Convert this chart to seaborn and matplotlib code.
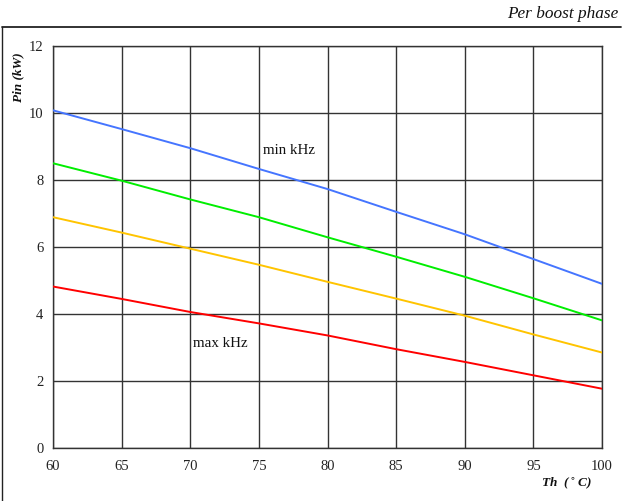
import matplotlib
matplotlib.use("Agg")
import matplotlib.pyplot as plt
from matplotlib.lines import Line2D
import seaborn as sns
import pandas as pd

# Heatsink temperature (deg C)
th = [60, 65, 70, 75, 80, 85, 90, 95, 100]

# Input power per boost phase (kW) for each switching-frequency setting
pin_min_khz = [10.08, 9.52, 8.95, 8.33, 7.73, 7.05, 6.38, 5.64, 4.90]
pin_f2 = [8.50, 7.98, 7.42, 6.89, 6.29, 5.71, 5.11, 4.47, 3.81]
pin_f3 = [6.89, 6.43, 5.95, 5.47, 4.96, 4.46, 3.95, 3.39, 2.85]
pin_max_khz = [4.82, 4.45, 4.06, 3.72, 3.36, 2.95, 2.57, 2.17, 1.77]

series_names = ["min kHz", "f2", "f3", "max kHz"]
series_colors = ["#4575ff", "#00ee00", "#ffc400", "#ff0000"]

x_ticks = [60, 65, 70, 75, 80, 85, 90, 95, 100]
y_ticks = [0, 2, 4, 6, 8, 10, 12]

frames = []
for name, vals in zip(series_names, [pin_min_khz, pin_f2, pin_f3, pin_max_khz]):
    frames.append(pd.DataFrame({"Th": th, "Pin": vals, "setting": name}))
df = pd.concat(frames, ignore_index=True)

sns.set_theme(style="white")
plt.rcParams["font.family"] = ["Liberation Serif", "DejaVu Serif"]

fig = plt.figure(figsize=(6.23, 5.01), dpi=100)
ax = fig.add_axes([53 / 623, 53 / 501, 549 / 623, 402 / 501])

sns.lineplot(data=df, x="Th", y="Pin", hue="setting", hue_order=series_names,
             palette=series_colors, linewidth=1.4, legend=False, ax=ax, zorder=3)

ax.set_xlim(60, 100)
ax.set_ylim(0, 12)
ax.set_xticks(x_ticks)
ax.set_yticks(y_ticks)
ax.set_xticklabels([str(v) for v in x_ticks], fontsize=10.5)
ax.set_yticklabels([str(v) for v in y_ticks], fontsize=10.5)
ax.tick_params(axis="both", length=0, colors="#222222")
ax.tick_params(axis="x", pad=9)
ax.tick_params(axis="y", pad=7)
ax.grid(True, color="#333333", linewidth=1.0)
for sp in ax.spines.values():
    sp.set_color("#333333")
    sp.set_linewidth(1.0)
ax.set_xlabel("")
ax.set_ylabel("")

# curve labels
ax.text(77.2, 8.87, "min kHz", fontsize=10.8, ha="center", va="center", color="#111111")
ax.text(72.2, 3.13, "max kHz", fontsize=10.8, ha="center", va="center", color="#111111")

# axis titles
fig.text(18 / 623, 1 - 77 / 501, "Pin (kW)", rotation=90, ha="center", va="center",
         fontsize=9.5, fontweight="bold", fontstyle="italic", color="#111111")
fig.text(592 / 623, 1 - 483 / 501, r"Th  ($^\circ$C)", ha="right", va="center",
         fontsize=9.5, fontweight="bold", fontstyle="italic", color="#111111")

# page title and frame
fig.text(618 / 623, 1 - 14 / 501, "Per boost phase", ha="right", va="center",
         fontsize=12.4, fontstyle="italic", color="#111111")
fig.add_artist(Line2D([2 / 623, 621 / 623], [1 - 27 / 501, 1 - 27 / 501],
                      transform=fig.transFigure, color="#222222", linewidth=1.3))
fig.add_artist(Line2D([2 / 623, 2 / 623], [1 - 27 / 501, 0],
                      transform=fig.transFigure, color="#222222", linewidth=1.0))

fig.savefig("out.png", dpi=100)
